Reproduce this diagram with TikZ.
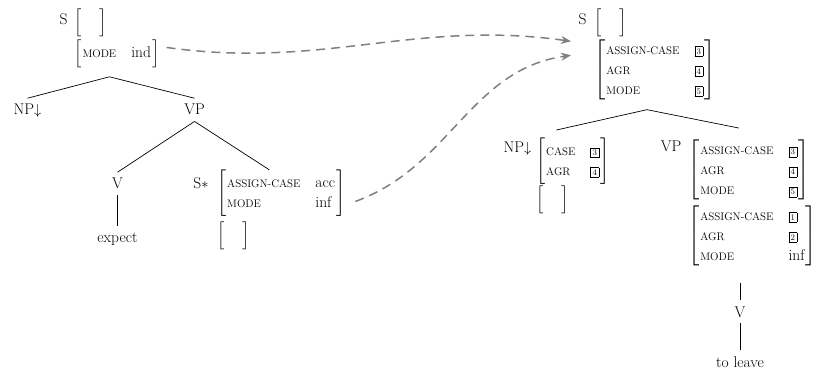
\documentclass[tikz,border=0pt]{standalone}
\usepackage{amsmath,amssymb}
\usepackage{xcolor}
\usepackage{tikz}
\usetikzlibrary{arrows.meta, positioning, fit}

\definecolor{linkgray}{RGB}{128,128,128}

\newcommand{\attr}[1]{{\fontsize{11}{13}\selectfont #1}}
\newcommand{\tagbox}[1]{{\setlength{\fboxsep}{1.8pt}\setlength{\fboxrule}{0.4pt}\fbox{\fontsize{8.5}{9}\selectfont #1}}}
\newcommand{\fsrows}[1]{\begin{tabular}{@{}l@{\hspace{15pt}}l@{}}#1\end{tabular}}
% brackets as glyphs: #1 math size, #2 height asked for
\newcommand{\fsl}[2]{{\fontsize{#1}{#1}\selectfont$\nulldelimiterspace=0pt\delimiterfactor=1001\delimitershortfall=0pt\left[\vcenter{\hbox{\rule{0pt}{#2}}}\right.$}}
\newcommand{\fsr}[2]{{\fontsize{#1}{#1}\selectfont$\nulldelimiterspace=0pt\delimiterfactor=1001\delimitershortfall=0pt\left.\vcenter{\hbox{\rule{0pt}{#2}}}\right]$}}
\newcommand{\fsmat}[3][15.5]{\fsl{#1}{#2}\hspace{1pt}\fsrows{#3}\hspace{1pt}\fsr{#1}{#2}}
\newcommand{\fsempty}{\fsl{15.5}{26pt}\hspace{18pt}\fsr{15.5}{26pt}}

\begin{document}
\begin{tikzpicture}[
	x=1pt, y=-1pt,
	font=\fontsize{15.5}{20}\selectfont,
	lbl/.style={inner xsep=0pt, inner ysep=6pt, anchor=base},
	fs/.style={inner sep=0pt, anchor=north west},
	grp/.style={inner sep=0pt},
	branch/.style={line width=0.7pt},
	link/.style={-{Stealth[length=10pt, width=8pt]}, dash pattern=on 9pt off 6pt, line width=1.5pt, linkgray}
]
	\useasboundingbox (0,0) rectangle (814,377);

	% left tree
	\node (ls) [lbl] at (63.5,25) {S};
	\node (lsTop) [fs] at (74,9) {\fsempty};
	\node (lsBot) [fs, below=2pt of lsTop.south west, anchor=north west] {\fsmat{26pt}{\attr{MODE} & ind}};
	\node (lsAll) [grp, fit=(ls)(lsTop)(lsBot)] {};

	\node (lnp) [lbl] at (27.5,115) {NP$\downarrow$};
	\node (lvp) [lbl] at (194.5,115) {VP};
	\node (lv) [lbl] at (117.5,189) {V};
	\node (lexp) [lbl] at (117.5,242) {expect};

	\node (lss) [lbl] at (201,189) {S$*$};
	\node (lssTop) [fs] at (217,170) {\fsmat{44pt}{\attr{ASSIGN-CASE} & acc\\ \attr{MODE} & inf}};
	\node (lssBot) [fs, below=5pt of lssTop.south west, anchor=north west] {\fsempty};
	\node (lssAll) [grp, fit=(lss)(lssTop)(lssBot)] {};

	\draw [branch] ([yshift=-9pt]lsAll.south) -- (lnp.north);
	\draw [branch] ([yshift=-9pt]lsAll.south) -- (lvp.north);
	\draw [branch] (lvp.south) -- (lv.north);
	\draw [branch] (lvp.south) -- (lssAll.north);
	\draw [branch] (lv.south) -- (lexp.north);

	% right tree
	\node (rs) [lbl] at (582.5,25) {S};
	\node (rsTop) [fs] at (594,9) {\fsempty};
	\node (rsBot) [fs, below=2pt of rsTop.south west, anchor=north west] {\fsmat[16.7]{58pt}{\attr{ASSIGN-CASE} & \tagbox{3}\\ \attr{AGR} & \tagbox{4}\\ \attr{MODE} & \tagbox{5}}};
	\node (rsAll) [grp, fit=(rs)(rsTop)(rsBot)] {};

	\node (rnp) [lbl] at (517.5,153) {NP$\downarrow$};
	\node (rnpTop) [fs] at (536,138) {\fsmat{44pt}{\attr{CASE} & \tagbox{3}\\ \attr{AGR} & \tagbox{4}}};
	\node (rnpBot) [fs, below=1pt of rnpTop.south west, anchor=north west] {\fsempty};
	\node (rnpAll) [grp, fit=(rnp)(rnpTop)(rnpBot)] {};

	\node (rvp) [lbl] at (671,152) {VP};
	\node (rvpTop) [fs] at (688,140) {\fsmat[16.7]{58pt}{\attr{ASSIGN-CASE} & \tagbox{3}\\ \attr{AGR} & \tagbox{4}\\ \attr{MODE} & \tagbox{5}}};
	\node (rvpBot) [fs, below=4pt of rvpTop.south west, anchor=north west] {\fsmat[16.7]{58pt}{\attr{ASSIGN-CASE} & \tagbox{1}\\ \attr{AGR} & \tagbox{2}\\ \attr{MODE} & inf}};
	\node (rvpAll) [grp, fit=(rvp)(rvpTop)(rvpBot)] {};

	\node (rv) [lbl] at (740,317) {V};
	\node (rleave) [lbl] at (740,367) {to leave};

	\draw [branch] ([yshift=-9pt]rsAll.south) -- ([yshift=6pt]rnpAll.north);
	\draw [branch] ([yshift=-9pt]rsAll.south) -- ([yshift=7pt]rvpAll.north);
	\draw [branch] ([yshift=-16pt]rv.north |- rvpAll.south) -- (rv.north);
	\draw [branch] (rv.south) -- (rleave.north);

	% dashed links
	\coordinate (tipA) at ([xshift=-23pt, yshift=-2pt]rsBot.north west);
	\coordinate (tipB) at ([xshift=-23pt, yshift=-16pt]rsBot.north west);
	\draw [link] ([xshift=7pt, yshift=6pt]lsBot.east) to[out=-8, in=172] (tipA);
	\draw [link] ([xshift=10pt, yshift=-8pt]lssTop.east) to[out=20, in=188] (tipB);

\end{tikzpicture}
\end{document}
